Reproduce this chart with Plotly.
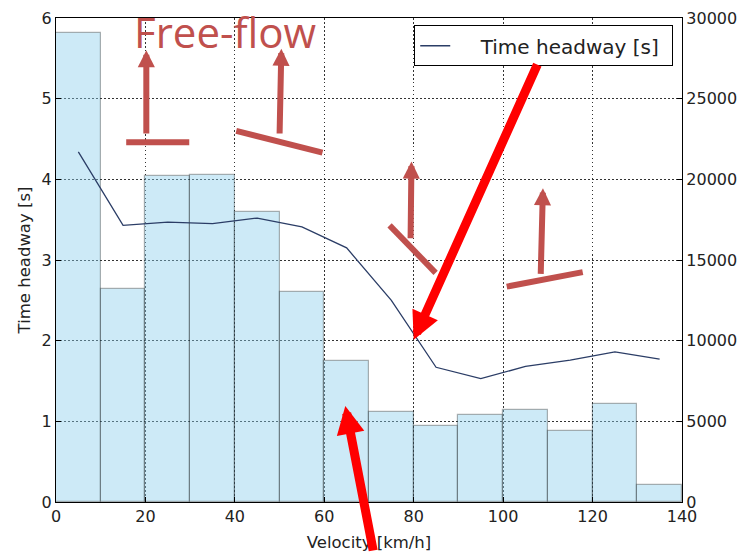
import plotly.graph_objects as go

# ---- data ----
bin_left = [0, 10, 20, 30, 40, 50, 60, 70, 80, 90, 100, 110, 120, 130]
bin_counts = [29070, 13200, 20200, 20270, 17980, 13020, 8740, 5570, 4730, 5390, 5700, 4400, 6070, 1070]
speed_mid = [5, 15, 25, 35, 45, 55, 65, 75, 85, 95, 105, 115, 125, 135]
headway = [4.34, 3.43, 3.47, 3.45, 3.52, 3.41, 3.15, 2.50, 1.67, 1.53, 1.68, 1.76, 1.86, 1.77]
x_ticks = [0, 20, 40, 60, 80, 100, 120, 140]
left_ticks = [0, 1, 2, 3, 4, 5, 6]
right_ticks = [0, 5000, 10000, 15000, 20000, 25000, 30000]

BROWN = "#c0504d"
RED = "#ff0000"
FONT = "DejaVu Sans"
GRID = dict(showgrid=True, griddash="1.5px,2.5px", gridcolor="rgba(0,0,0,0.8)", gridwidth=1)

fig = go.Figure()
fig.add_trace(go.Bar(
    x=[b + 5 for b in bin_left], y=bin_counts, width=10, yaxis="y",
    marker=dict(color="rgba(135,206,235,0.42)", line=dict(color="rgba(0,0,0,0.3)", width=1.2)),
    showlegend=False, hoverinfo="skip"))
fig.add_trace(go.Scatter(
    x=speed_mid, y=headway, yaxis="y2", mode="lines",
    line=dict(color="#2b3d66", width=1.3), name="\u00a0\u00a0\u00a0\u00a0Time headway [s]"))

axis_common = dict(showline=True, linecolor="black", linewidth=1.2, ticks="inside",
                   ticklen=5, tickcolor="black", tickfont=dict(family=FONT, size=16, color="#222"),
                   zeroline=False, automargin=False)
title_font = dict(family=FONT, size=16.5, color="#222")

fig.update_layout(
    width=741, height=552, margin=dict(l=56, r=59, t=18, b=50),
    plot_bgcolor="white", paper_bgcolor="white", bargap=0,
    xaxis=dict(range=[0, 140], tickvals=x_ticks, mirror=True, **GRID,
               title=dict(text="Velocity [km/h]", font=title_font, standoff=13),
               **axis_common),
    yaxis=dict(range=[0, 30000], tickvals=right_ticks, tickformat="d", side="right",
               **GRID, **axis_common),
    yaxis2=dict(range=[0, 6], tickvals=left_ticks, side="left", overlaying="y", showgrid=False,
                title=dict(text="Time headway [s]", font=title_font, standoff=6),
                **axis_common),
    legend=dict(x=0.986, y=0.985, xanchor="right", yanchor="top", bgcolor="white",
                bordercolor="black", borderwidth=1, font=dict(family=FONT, size=20, color="#222"),
                orientation="h", entrywidth=212),
)

# "Free-flow" label
fig.add_annotation(x=37.9, y=5.83, xref="x", yref="y2", text="Free-flow", showarrow=False,
                   font=dict(family="Open Sans", size=42, color=BROWN))

def arrow(tail, head, color, width, size):
    fig.add_annotation(x=head[0], y=head[1], ax=tail[0], ay=tail[1], xref="x", yref="y2",
                       axref="x", ayref="y2", showarrow=True, arrowhead=2, arrowsize=size,
                       arrowwidth=width, arrowcolor=color, standoff=0, text="")

def bar(p0, p1):
    fig.add_shape(type="line", x0=p0[0], y0=p0[1], x1=p1[0], y1=p1[1], xref="x", yref="y2",
                  line=dict(color=BROWN, width=6))

bar((15.7, 4.46), (29.8, 4.46))
arrow((20.2, 4.55), (20.2, 5.60), BROWN, 6, 0.57)
bar((40.3, 4.60), (59.6, 4.33))
arrow((50.0, 4.55), (50.4, 5.62), BROWN, 6, 0.57)
bar((74.6, 3.43), (84.9, 2.84))
arrow((79.3, 3.25), (79.5, 4.22), BROWN, 6, 0.57)
bar((100.8, 2.67), (117.8, 2.85))
arrow((108.4, 2.81), (108.9, 3.89), BROWN, 6, 0.57)

arrow((107.8, 5.44), (80.0, 2.01), RED, 9, 0.62)
arrow((71.0, -0.62), (64.7, 1.19), RED, 9, 0.62)

fig.write_html("out.html")
